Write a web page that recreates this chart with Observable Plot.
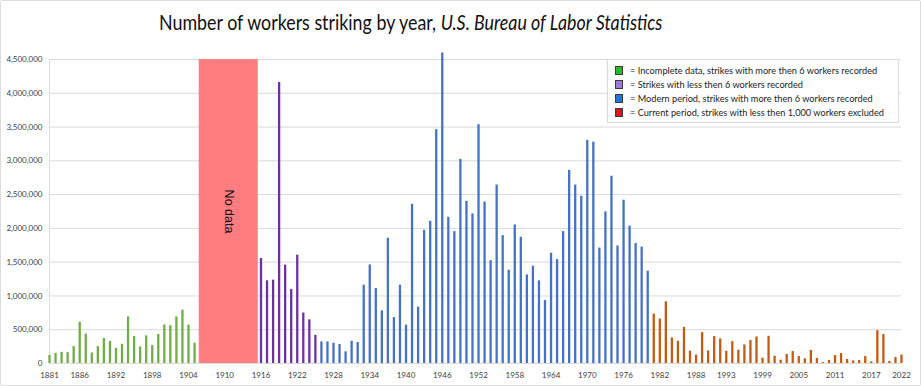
<!DOCTYPE html>
<html>
<head>
<meta charset="utf-8">
<script src="https://cdn.jsdelivr.net/npm/d3@7"></script>
<script src="https://cdn.jsdelivr.net/npm/@observablehq/plot@0.6"></script>
<style>
  html, body { margin: 0; padding: 0; background: #fff; }
  #wrap { position: relative; width: 921px; height: 386px; overflow: hidden; font-family: Lato, "Open Sans", sans-serif; }
  #title { position: absolute; left: 159px; top: 7px; height: 39px; font-size: 20.5px; color: #111; white-space: nowrap; line-height: 30px; transform: scaleX(0.87); transform-origin: 0 50%; }
  #chart { position: absolute; left: 0; top: 46px; }
  #legend { position: absolute; left: 607px; top: 59px; width: 292px; height: 64px; box-sizing: border-box; border: 1px solid #d9d9d9; background: #fff; padding: 3px 0 0 7px; }
  .row { display: flex; align-items: center; height: 14px; font-size: 9.2px; color: #222; white-space: nowrap; }
  .sw { width: 8px; height: 9px; box-sizing: border-box; border: 1px solid #3a3a3a; margin-right: 7px; flex: none; }
  #border { position: absolute; left: 0; top: 0; width: 921px; height: 386px; box-sizing: border-box; border: 1px solid #dcdcdc; border-radius: 2px; pointer-events: none; }
</style>
</head>
<body>
<div id="wrap">
  <div id="title"></div>
  <div id="chart"></div>
  <div id="legend"></div>
  <div id="border"></div>
</div>
<script>
// ---- Data (workers striking, thousands) ----
const incompleteYears = [1881,1882,1883,1884,1885,1886,1887,1888,1889,1890,1891,1892,1893,1894,1895,1896,1897,1898,1899,1900,1901,1902,1903,1904,1905];
const incompleteValues = [120,150,165,160,250,610,435,155,250,370,325,225,285,690,400,245,410,265,430,570,560,690,790,570,300];

const smallStrikeYears = [1916,1917,1918,1919,1920,1921,1922,1923,1924,1925];
const smallStrikeValues = [1554,1224,1234,4160,1456,1096,1604,747,646,417];

const modernYears = [1926,1927,1928,1929,1930,1931,1932,1933,1934,1935,1936,1937,1938,1939,1940,1941,1942,1943,1944,1945,1946,1947,1948,1949,1950,1951,1952,1953,1954,1955,1956,1957,1958,1959,1960,1961,1962,1963,1964,1965,1966,1967,1968,1969,1970,1971,1972,1973,1974,1975,1976,1977,1978,1979,1980];
const modernValues = [320,320,300,281,173,330,311,1159,1459,1109,779,1854,680,1159,567,2357,833,1972,2105,3461,4595,2164,1952,3022,2401,2214,3535,2391,1523,2642,1893,1380,2051,1868,1311,1440,1223,932,1632,1538,1952,2859,2642,2475,3303,3277,1709,2244,2772,1740,2417,2033,1777,1723,1366];

const currentYears = [1981,1982,1983,1984,1985,1986,1987,1988,1989,1990,1991,1992,1993,1994,1995,1996,1997,1998,1999,2000,2001,2002,2003,2004,2005,2006,2007,2008,2009,2010,2011,2012,2013,2014,2015,2016,2017,2018,2019,2020,2021,2022];
const currentValues = [732,658,914,378,329,536,182,123,457,187,398,364,182,324,197,275,339,393,79,403,108,49,133,177,103,69,192,74,13,44,118,147,59,39,44,103,25,486,428,30,88,125];

const noDataRange = [{from: 1906, to: 1915, label: "No data"}];

const xTickYears = [1881,1886,1892,1898,1904,1910,1916,1922,1928,1934,1940,1946,1952,1958,1964,1970,1976,1982,1988,1993,1999,2005,2011,2017,2022];
const yTicks = [0,500000,1000000,1500000,2000000,2500000,3000000,3500000,4000000,4500000];

const legendLabels = [
  "= Incomplete data, strikes with more then 6 workers recorded",
  "= Strikes with less then 6 workers recorded",
  "= Modern period, strikes with more then 6 workers recorded",
  "= Current period, strikes with less then 1,000 workers excluded"
];
const legendColors = ["#27b927", "#9b78dc", "#1c78d2", "#e0111f"];

const titleMain = "Number of workers striking by year, ";
const titleSource = "U.S. Bureau of Labor Statistics";

// ---- Build ----
const toRows = (years, vals) => years.map((y, i) => ({year: y, value: vals[i] * 1000}));
const incomplete = toRows(incompleteYears, incompleteValues);
const smallStrikes = toRows(smallStrikeYears, smallStrikeValues);
const modern = toRows(modernYears, modernValues);
const current = toRows(currentYears, currentValues);

const barW = 2.3;

const plot = Plot.plot({
  width: 921,
  height: 340,
  marginLeft: 49,
  marginRight: 20,
  marginTop: 13,
  marginBottom: 23,
  x: {type: "linear", domain: [1881, 2022]},
  y: {domain: [0, 4500000]},
  style: {fontFamily: "Lato, sans-serif", fontSize: "8px", color: "#404040", background: "transparent", overflow: "visible"},
  marks: [
    Plot.gridY(yTicks, {stroke: "#d9d9d9", strokeOpacity: 1}),
    Plot.frame({anchor: "left", stroke: "#d9d9d9"}),
    Plot.rectY(noDataRange, {x1: d => d.from - 0.22, x2: d => d.to + 0.55, y1: 0, y2: 4500000, fill: "#ff7c80"}),
    Plot.text(noDataRange, {x: d => (d.from + d.to) / 2 + 0.17, y: 2250000, text: "label", rotate: 90, fontSize: 12.5, fontFamily: "Liberation Sans, Arial, sans-serif", fill: "#111"}),
    Plot.ruleX(incomplete, {x: "year", y1: 0, y2: "value", stroke: "#70ad47", strokeWidth: barW}),
    Plot.ruleX(smallStrikes, {x: "year", y1: 0, y2: "value", stroke: "#7030a0", strokeWidth: barW}),
    Plot.ruleX(modern, {x: "year", y1: 0, y2: "value", stroke: "#4472c4", strokeWidth: barW}),
    Plot.ruleX(current, {x: "year", y1: 0, y2: "value", stroke: "#c55a11", strokeWidth: barW}),
    Plot.axisX(xTickYears, {tickFormat: d => String(d), tickSize: 0, tickPadding: 9, label: null}),
    Plot.axisY(yTicks, {tickFormat: d3.format(","), tickSize: 0, tickPadding: 7, label: null})
  ]
});
document.getElementById("chart").appendChild(plot);

const t = document.getElementById("title");
t.appendChild(document.createTextNode(titleMain));
const em = document.createElement("i");
em.textContent = titleSource;
t.appendChild(em);

const lg = document.getElementById("legend");
legendLabels.forEach((lab, i) => {
  const r = document.createElement("div");
  r.className = "row";
  const s = document.createElement("span");
  s.className = "sw";
  s.style.background = legendColors[i];
  r.appendChild(s);
  const tx = document.createElement("span");
  tx.textContent = lab;
  r.appendChild(tx);
  lg.appendChild(r);
});
</script>
</body>
</html>
